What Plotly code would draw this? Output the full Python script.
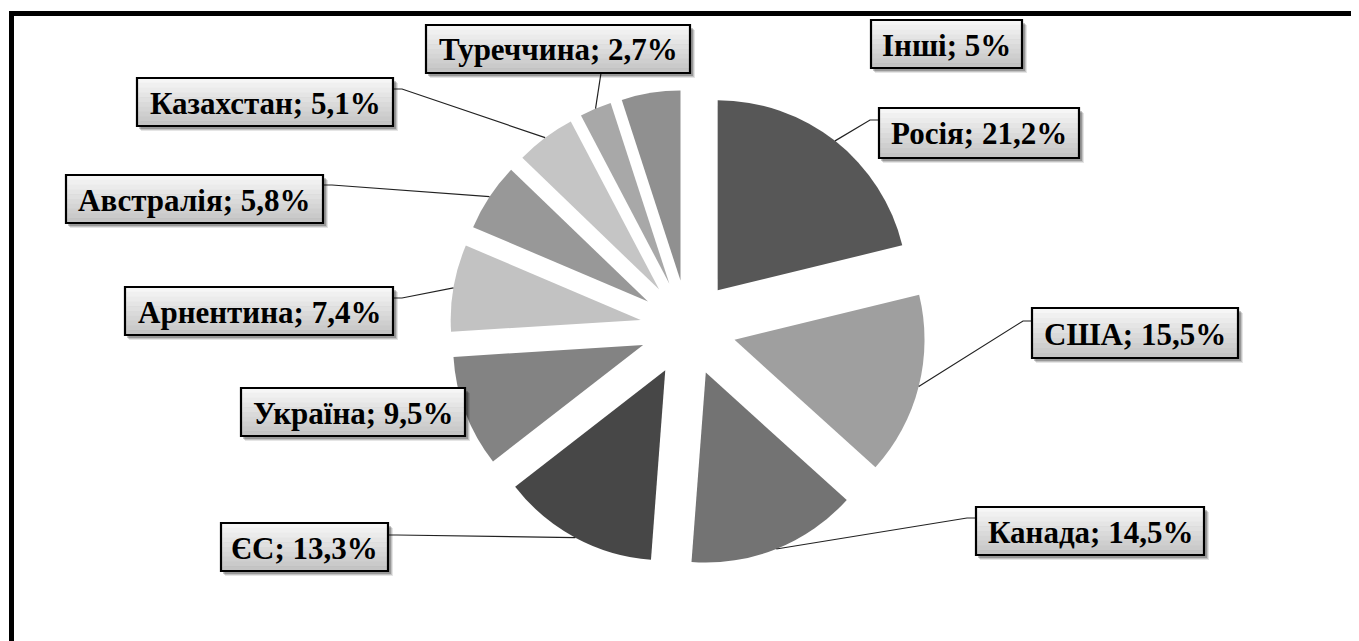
import math
import plotly.graph_objects as go

# ---- data ----
countries = ["Росія", "США", "Канада", "ЄС", "Україна", "Арнентина",
             "Австралія", "Казахстан", "Туреччина", "Інші"]
shares = [21.2, 15.5, 14.5, 13.3, 9.5, 7.4, 5.8, 5.1, 2.7, 5.0]
colors = ["#575757", "#9f9f9f", "#737373", "#474747", "#838383",
          "#c2c2c2", "#989898", "#c5c5c5", "#a8a8a8", "#909090"]

# ---- layout geometry (pixels in the page) ----
W, H = 1359, 641
OFF = 8                    # default page body margin
CX, CY = 688, 328          # pie centre
R = 190                    # slice radius
PULL_PX = 48               # explosion offset
pull = PULL_PX / R
half = R * (1 + pull)

# label boxes: (left, right, top, bottom), attach point for leader line (or None), side of stub
boxes = {
    "Росія":     ((879, 1079, 108, 158), (879, 120), -1),
    "США":       ((1032, 1238, 308, 358), (1032, 321), -1),
    "Канада":    ((976, 1204, 507, 555), (976, 518), -1),
    "ЄС":        ((221, 388, 523, 571), (388, 535), 1),
    "Україна":   ((241, 465, 388, 436), None, 1),
    "Арнентина": ((125, 393, 287, 335), (393, 298), 1),
    "Австралія": ((66, 323, 175, 223), (323, 185), 1),
    "Казахстан": ((137, 393, 78, 126), (393, 89), 1),
    "Туреччина": ((426, 690, 25, 73), (601, 73), 0),
    "Інші":      ((871, 1022, 20, 68), None, 0),
}


def px(x):
    return (x - OFF) / W


def py(y):
    return 1 - (y - OFF) / H


def fmt(v):
    return ("%g" % v).replace(".", ",")


fig = go.Figure()
fig.add_trace(go.Pie(
    labels=countries,
    values=shares,
    sort=False,
    direction="clockwise",
    rotation=0,
    pull=[pull] * len(shares),
    marker=dict(colors=colors, line=dict(width=0)),
    textinfo="none",
    textposition="none",
    showlegend=False,
    hoverinfo="label+percent",
    domain=dict(x=[px(CX - half), px(CX + half)], y=[py(CY + half), py(CY - half)]),
))

shapes = []
annotations = []

# frame (top and left thick lines)
shapes.append(dict(type="line", xref="paper", yref="paper",
                   x0=px(9), x1=px(W + 20), y0=py(13.5), y1=py(13.5),
                   line=dict(color="black", width=5), layer="above"))
shapes.append(dict(type="line", xref="paper", yref="paper",
                   x0=px(11.5), x1=px(11.5), y0=py(11), y1=py(H + 20),
                   line=dict(color="black", width=5), layer="above"))

total = sum(shares)
cum = 0.0
for name, v in zip(countries, shares):
    mid = (cum + v / 2) / total * 2 * math.pi
    cum += v
    (l, r, t, b), attach, side = boxes[name]
    # leader line from slice edge (computed from data) to box
    if attach is not None:
        ax_ = CX + (R + PULL_PX) * math.sin(mid)
        ay_ = CY - (R + PULL_PX) * math.cos(mid)
        if side == 0:
            path = "M %f,%f L %f,%f" % (px(ax_), py(ay_), px(attach[0]), py(attach[1]))
        else:
            ex = attach[0] + side * 9
            path = "M %f,%f L %f,%f L %f,%f" % (px(ax_), py(ay_), px(ex), py(attach[1]),
                                              px(attach[0]), py(attach[1]))
        shapes.append(dict(type="path", xref="paper", yref="paper", path=path,
                           line=dict(color="#222222", width=1.2), layer="above"))
    # shadow
    for k, op in ((5, 0.10), (4, 0.15), (3, 0.22)):
        shapes.append(dict(type="rect", xref="paper", yref="paper",
                           x0=px(l + k - 1), x1=px(r + k), y0=py(t + k), y1=py(b + k),
                           fillcolor="rgba(0,0,0,%.2f)" % op, line=dict(width=0), layer="above"))
    # gradient fill
    nb = 10
    for i in range(nb):
        f = i / (nb - 1)
        g = int(round(246 - f * (246 - 196)))
        y0 = t + (b - t) * i / nb
        y1 = t + (b - t) * (i + 1) / nb
        shapes.append(dict(type="rect", xref="paper", yref="paper",
                           x0=px(l), x1=px(r), y0=py(y0), y1=py(y1 + 0.5),
                           fillcolor="rgb(%d,%d,%d)" % (g, g, g), line=dict(width=0),
                           layer="above"))
    # border
    shapes.append(dict(type="rect", xref="paper", yref="paper",
                       x0=px(l), x1=px(r), y0=py(t), y1=py(b),
                       line=dict(color="black", width=2.2), fillcolor="rgba(0,0,0,0)",
                       layer="above"))
    annotations.append(dict(
        x=px((l + r) / 2), y=py((t + b) / 2 + 1), xref="paper", yref="paper",
        xanchor="center", yanchor="middle", showarrow=False,
        text="%s; %s%%" % (name, fmt(v)),
        font=dict(family="Liberation Serif, Times New Roman, serif", size=31,
                  color="black", weight="bold"),
    ))

fig.update_layout(
    width=W, height=H,
    margin=dict(l=0, r=0, t=0, b=0),
    paper_bgcolor="white",
    plot_bgcolor="white",
    shapes=shapes,
    annotations=annotations,
    showlegend=False,
)

fig.write_html("out.html")
